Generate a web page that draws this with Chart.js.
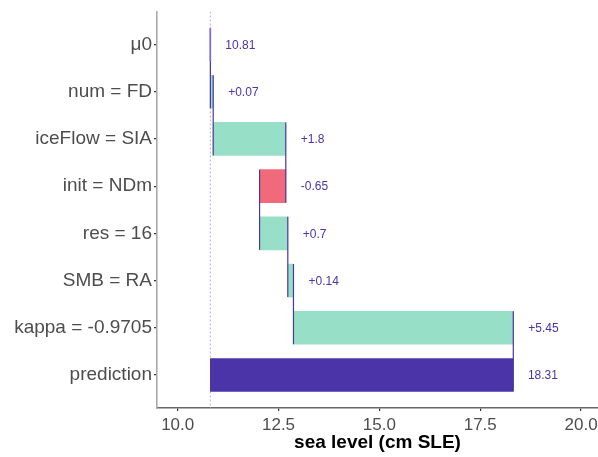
<!DOCTYPE html>
<html><head><meta charset="utf-8">
<script src="https://cdn.jsdelivr.net/npm/chart.js@4"></script>
<style>
html,body{margin:0;padding:0;overflow:hidden;background:#fff;width:598px;height:457px}
#wrap{position:relative;width:620px;height:457px}
</style>
</head><body>
<div id="wrap"><canvas id="c" width="620" height="457"></canvas></div>
<script>
const categories = ['μ0','num = FD','iceFlow = SIA','init = NDm','res = 16','SMB = RA','kappa = -0.9705','prediction'];
const baseValue = 10.81;
const contributions = [0.07, 1.8, -0.65, 0.7, 0.14, 5.45];
const prediction = 18.31;
const valueLabels = ['10.81','+0.07','+1.8','-0.65','+0.7','+0.14','+5.45','18.31'];
const xTicks = [10, 12.5, 15, 17.5, 20];

const GREEN = '#97e0c7', RED = '#f16a7c', PURPLE = '#4b33a8';

const starts = [baseValue], ends = [baseValue], colors = [PURPLE];
let cum = baseValue;
contributions.forEach(c => {
  starts.push(cum);
  cum = +(cum + c).toFixed(2);
  ends.push(cum);
  colors.push(c >= 0 ? GREEN : RED);
});
starts.push(baseValue); ends.push(prediction); colors.push(PURPLE);

const half = 0.35;
const connectors = [];
for (let i = 0; i < categories.length - 1; i++) {
  connectors.push({x: ends[i], y: i - half}, {x: ends[i], y: i + 1 + half}, {x: null, y: null});
}

const valueLabelPlugin = {
  id: 'valueLabels',
  afterDatasetsDraw(chart) {
    const ctx = chart.ctx, xs = chart.scales.x, ys = chart.scales.y;
    ctx.save();
    ctx.font = '12px "Liberation Sans", Arial, sans-serif';
    ctx.fillStyle = PURPLE;
    ctx.textAlign = 'left';
    ctx.textBaseline = 'middle';
    categories.forEach((c, i) => {
      const x = xs.getPixelForValue(Math.max(starts[i], ends[i])) + 15;
      ctx.fillText(valueLabels[i], x, ys.getPixelForValue(i) + 1);
    });
    ctx.restore();
  }
};

new Chart(document.getElementById('c'), {
  type: 'bar',
  data: {
    datasets: [
      {
        type: 'line',
        data: [{x: baseValue, y: -0.7}, {x: baseValue, y: 7.7}],
        borderColor: '#b7afee', borderWidth: 1, borderDash: [2, 2],
        pointRadius: 0, fill: false, order: 3
      },
      {
        type: 'bar',
        data: categories.map((c, i) => ({y: i, x: [starts[i], ends[i]]})),
        backgroundColor: colors, borderWidth: 0, barThickness: 33, order: 2
      },
      {
        type: 'line',
        data: connectors,
        borderColor: PURPLE, borderWidth: 1.2, pointRadius: 0, fill: false,
        spanGaps: false, order: 1
      },
      {
        type: 'line',
        data: [{x: baseValue, y: -half}, {x: baseValue, y: half}],
        borderColor: '#7d6ee0', borderWidth: 1.6, pointRadius: 0, fill: false, order: 0
      }
    ]
  },
  options: {
    indexAxis: 'y',
    responsive: false,
    animation: false,
    devicePixelRatio: 1,
    layout: {padding: {left: 0, top: 11, right: 22, bottom: 0}},
    plugins: {legend: {display: false}, tooltip: {enabled: false}},
    scales: {
      x: {
        type: 'linear', position: 'bottom', min: 9.487, max: 20.42, offset: false,
        afterBuildTicks: s => { s.ticks = xTicks.map(v => ({value: v})); },
        afterFit: s => { s.height = 49; },
        ticks: {
          callback: v => Number(v).toFixed(1),
          font: {family: '"Liberation Sans", Arial, sans-serif', size: 17},
          color: '#4d4d4d', padding: 4, maxRotation: 0, autoSkip: false
        },
        grid: {drawOnChartArea: false, drawTicks: true, tickLength: 3, color: '#333', lineWidth: 1.2, offset: false},
        border: {display: true, color: '#666', width: 1.6},
        title: {
          display: true, text: 'sea level (cm SLE)', color: '#000',
          font: {family: '"Liberation Sans", Arial, sans-serif', size: 19, weight: 'bold'},
          padding: {top: 4, bottom: 3}
        }
      },
      y: {
        type: 'linear', min: -0.7, max: 7.7, reverse: true, offset: false,
        afterBuildTicks: s => { s.ticks = categories.map((c, i) => ({value: i})); },
        afterFit: s => { s.width = 157; },
        ticks: {
          callback: v => categories[v],
          font: {family: '"Liberation Sans", Arial, sans-serif', size: 19, lineHeight: 1},
          color: '#4d4d4d', padding: 2, autoSkip: false
        },
        grid: {drawOnChartArea: false, drawTicks: true, tickLength: 3, color: '#333', lineWidth: 1.2, offset: false},
        border: {display: true, color: '#aaa', width: 1.6}
      }
    }
  },
  plugins: [valueLabelPlugin]
});
</script>
</body></html>
